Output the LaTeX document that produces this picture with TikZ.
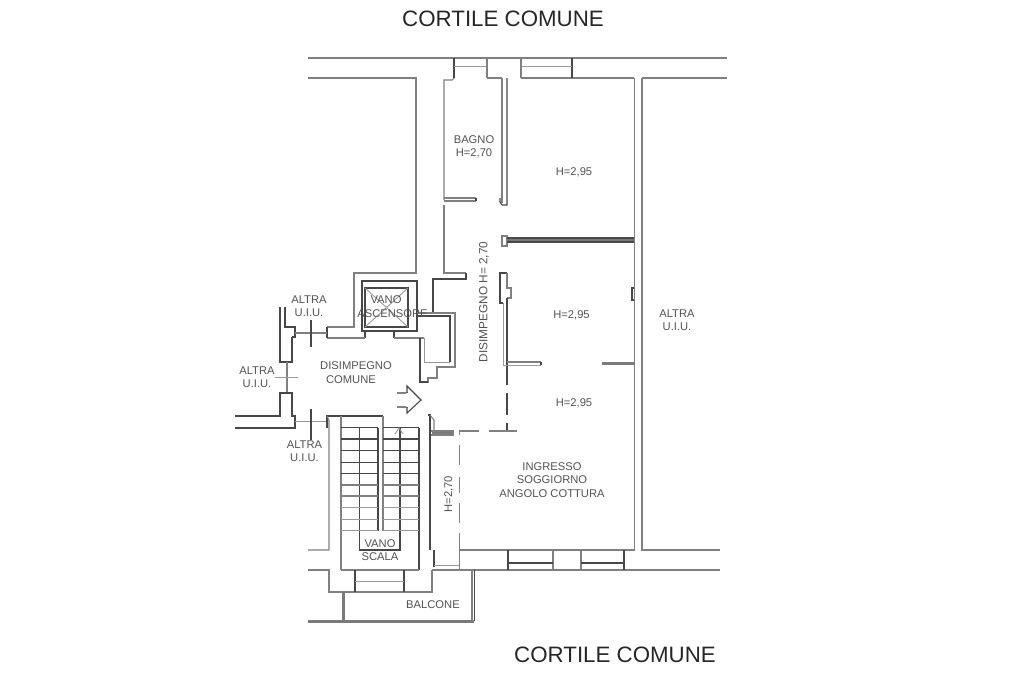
\documentclass[tikz,border=0pt]{standalone}
\usepackage{fontspec}
\setmainfont{Liberation Sans}
\tikzset{
  wall/.style={draw=black!50,line width=1.05pt},
  dark/.style={draw=black!72,line width=1.1pt},
  lightwall/.style={draw=black!40,line width=0.9pt},
  heavywall/.style={draw=black!52,line width=2.6pt},
  big/.style={font=\fontsize{22.3}{24}\selectfont,text=black!85,inner sep=0pt},
  small/.style={font=\fontsize{11.2}{13.6}\selectfont,text=black!68,inner sep=0pt,align=center}
}
\begin{document}
\begin{tikzpicture}[x=1pt,y=-1pt,line join=miter]
\useasboundingbox (0,0) rectangle (1024,683);
% top wall
\draw[wall] (308,58) -- (727,58);
\draw[wall] (308,78) -- (416,78) -- (416,273) -- (354,273) -- (354,327) -- (327,327);
\draw[wall] (444,200) -- (444,80) -- (452,80) -- (454,78);
\draw[wall] (487,78) -- (502,78) (521,78) -- (634,78) (642,78) -- (727,78);
% top windows
\draw[dark] (454,58) -- (454,78) (572,58) -- (572,78);
\draw[wall] (487,58) -- (487,78) (521,58) -- (521,78);
\draw[lightwall] (454,66) -- (487,66) (521,66) -- (572,66);
% bathroom
\draw[wall] (502,78) -- (502,203);
\draw[dark] (507,78) -- (507,205) -- (502,205) -- (500,202) -- (500,198);
\draw[wall] (444,198) -- (476,198) (444,201) -- (476,201);
\draw[dark] (476,198) -- (476,201);
\draw[wall] (444,205) -- (444,273) -- (466,273);
\draw[dark] (466,273) -- (466,279) -- (433,279) -- (433,313);
% horizontal partition
\draw[wall] (502,236) rectangle (507,246);
\draw[heavywall] (507,240) -- (634,240);
\draw[dark] (507,238) -- (634,238) (507,242) -- (634,242);
% right party wall
\draw[wall] (634.5,78) -- (634.5,550) -- (459.5,550);
\draw[wall] (642,78) -- (642,550) -- (720,550);
% middle wall
\draw[dark] (507,273) -- (500,273) -- (500,303) -- (503,303);
\draw[wall] (507,273) -- (507,288) -- (511,288) -- (511,298) -- (507,298);
\draw[dark] (507,298) -- (507,385) (507,393) -- (507,415) (507,423) -- (507,431);
\draw[lightwall] (503,303) -- (503,365) -- (507,365);
\draw[wall] (507,362) -- (541,362);
\draw[lightwall] (507,365) -- (541,365);
\draw[dark] (541,362) -- (541,365);
\draw[heavywall] (602,363.5) -- (634,363.5);
\draw[dark] (634,288) -- (632,288) -- (632,300) -- (634,300);
% dashed partition
\draw[wall] (489,431) -- (517,431) (459,431) -- (479,431);
\draw[wall] (459.5,431) -- (459.5,435) (459.5,445) -- (459.5,465) (459.5,477) -- (459.5,493) (459.5,503) -- (459.5,523) (459.5,533) -- (459.5,570);
% door stub
\draw[heavywall] (432,433) -- (453,433);
\draw[wall] (430,431) -- (453,431) -- (453,435) -- (430,435);
% lift
\draw[dark] (362,281) rectangle (417,331);
\draw[dark] (365,288) rectangle (408,327);
\draw[lightwall] (365,288) -- (408,327) (408,288) -- (365,327);
\draw[dark] (365,331) -- (365,338) (394,331) -- (394,338);
\draw[wall] (327,338) -- (365,338) (394,338) -- (424,338);
\draw[dark] (327,327) -- (327,338);
% shaft extension
\draw[dark] (417,316) -- (450,316) -- (450,362);
\draw[wall] (417,313) -- (455,313) -- (455,367) -- (437,367) -- (437,378) -- (428,378) -- (428,382) -- (420,382);
\draw[lightwall] (424,338) -- (424,362) -- (450,362);
\draw[dark] (420,338) -- (420,382) -- (428,382);
% left walls
\draw[dark] (280,307) -- (280,362) -- (292,362) -- (292,337);
\draw[dark] (285,307) -- (285,327) -- (295,327) -- (295,337) -- (292,337);
\draw[wall] (295,333) -- (327,333);
\draw[dark] (311,320) -- (311,347);
\draw[wall] (287,362) -- (287,393);
\draw[lightwall] (275,377.5) -- (298,377.5);
\draw[dark] (235,416) -- (280,416) -- (280,393) -- (292,393) -- (292,416) -- (295,416) -- (295,428) -- (235,428);
\draw[lightwall] (295,421.5) -- (327,421.5);
\draw[dark] (311,409) -- (311,440);
% stair
\draw[dark] (327,428) -- (327,416) -- (383,416);
\draw[wall] (327,416) -- (329,420) -- (329,550) -- (308,550);
\draw[wall] (341,416) -- (341,570);
\draw[dark] (359.5,428) -- (359.5,550) -- (400,550) -- (400,428);
\draw[dark] (378,428) -- (378,531);
\draw[wall] (383,416) -- (383,531);
\draw[dark] (419,428) -- (419,570);
\draw[dark] (430,550) -- (430,415) -- (428,415);
\draw[wall] (430,415) -- (434,420) -- (434,431);
\foreach \yy/\ss in {427.3/dark,439/dark,450.7/dark,462.3/dark,473.3/dark,485/wall,496/wall,507.7/lightwall,519.3/lightwall,530.7/lightwall}{
  \draw[\ss] (341,\yy) -- (378,\yy) (383,\yy) -- (419,\yy);
}
\draw[lightwall] (395,434) -- (399,428) -- (403,434);
% entry arrow
\draw[wall] (397,393) -- (408,393) (397,407) -- (408,407);
\draw[dark] (407,386) -- (421,400) -- (407,413) -- cycle;
\draw[draw=white,line width=1.4pt] (407,393) -- (407,407);
% bottom
\draw[wall] (308,570) -- (329,570) -- (329,592) -- (432,592) -- (432,570);
\draw[wall] (341,570) -- (419,570);
\draw[dark] (355,570) -- (355,592) (404,570) -- (404,592);
\draw[lightwall] (355,581) -- (404,581);
\draw[wall] (432,570) -- (720,570);
\draw[dark] (434,550) -- (434,567);
\draw[lightwall] (434,565) -- (459,565);
% bottom windows
\draw[dark] (508,550) -- (508,570) (624,550) -- (624,570);
\draw[wall] (553,550) -- (553,570) (581,550) -- (581,570);
\draw[dark] (508,563) -- (553,563) (581,563) -- (624,563);
% balcony
\draw[heavywall] (308,621.5) -- (474,621.5);
\draw[heavywall] (343.5,592) -- (343.5,621);
\draw[wall] (472,570) -- (472,621);
\draw[dark] (474.5,570) -- (474.5,621);
% texts
\node[big] (t1) at (503,19) {CORTILE COMUNE};
\node[big] (t2) at (615,655) {CORTILE COMUNE};
\node[small] (bagno) at (474,147) {BAGNO\\H=2,70};
\node[small] (h1) at (574,172.5) {H=2,95};
\node[small] (h2) at (571.5,315) {H=2,95};
\node[small] (h3) at (574,403) {H=2,95};
\node[small] (altra1) at (677,320) {ALTRA\\U.I.U.};
\node[small] (altra2) at (309,306) {ALTRA\\U.I.U.};
\node[small] (altra3) at (257,377) {ALTRA\\U.I.U.};
\node[small] (altra4) at (304.5,451) {ALTRA\\U.I.U.};
\node[small] (vano1a) at (386,300) {VANO};
\node[small] (vano1b) at (392.5,314) {ASCENSORE};
\node[small] (disa) at (356,366) {DISIMPEGNO};
\node[small] (disb) at (351,380) {COMUNE};
\node[small,rotate=90,font=\fontsize{11.8}{14}\selectfont] (dis2) at (484,302) {DISIMPEGNO H= 2,70};
\node[small,rotate=90] (h4) at (449,494) {H=2,70};
\node[small] (ing) at (552,480) {INGRESSO\\SOGGIORNO\\ANGOLO COTTURA};
\node[small] (vano2) at (380,550) {VANO\\SCALA};
\node[small] (balc) at (433,605) {BALCONE};
\end{tikzpicture}
\end{document}
